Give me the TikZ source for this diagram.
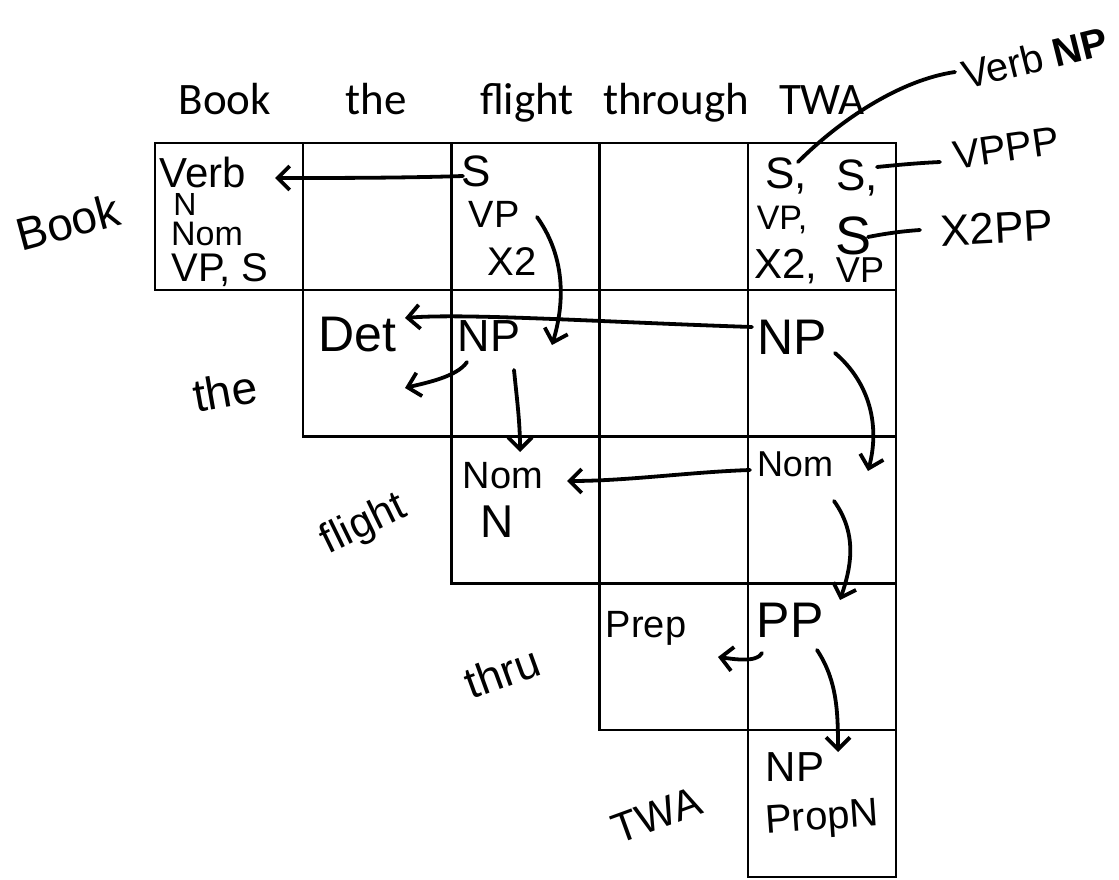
\documentclass[tikz,border=0pt]{standalone}
\usepackage{fontspec}
\setmainfont{Carlito}
\newfontfamily\hand{Liberation Sans}
\usetikzlibrary{arrows.meta,calc}
\begin{document}
\begin{tikzpicture}[x=1pt,y=-1pt,
  cell/.style={line width=2.4pt},
  head/.style={font=\fontsize{45}{50}\selectfont, anchor=base, inner sep=0pt},
  hw/.style={font=\hand\fontsize{#1}{#1}\selectfont, inner sep=0pt},
  ink/.style={line width=3.8pt, line cap=round, line join=round},
  arr/.style={ink, -{Straight Barb[length=12pt,width=24pt]}}]
\useasboundingbox (0,0) rectangle (1119,880);
% chart grid
\foreach \r in {0,...,4}{
  \foreach \c in {\r,...,4}{
    \draw[cell] ({155+148.2*\c},{143+146.8*\r}) rectangle ++(148.2,146.8);
  }}
% header words
\node[head] (hBook) at (225,115) {Book};
\node[head] (hThe) at (376,115) {the};
\node[head] (hFlight) at (527,115) {flight};
\node[head] (hThrough) at (676,115) {through};
\node[head] (hTWA) at (822,115) {TWA};
% row labels
\node[hw=46, rotate=15] (lBook) at (68,222) {Book};
\node[hw=46, rotate=10] (lThe) at (225,391) {the};
\node[hw=42, rotate=26] (lFlight) at (364,525) {flight};
\node[hw=44, rotate=20] (lThru) at (502,672) {thru};
\node[hw=42, rotate=20] (lTWA) at (657,815) {TWA};
% cell (0,0)
\node[hw=42] (Verb) at (203,172) {Verb};
\node[hw=32] (N00) at (185,204) {N};
\node[hw=34] (Nom00) at (207,234) {Nom};
\node[hw=40] (VPS00) at (220,270) {VP, S};
% cell (0,2)
\node[hw=44] (S02) at (476,171) {S};
\node[hw=38] (VP02) at (494,214) {VP};
\node[hw=40] (X202) at (512,262) {X2};
% cell (0,4)
\node[hw=44] (S04a) at (786,176) {S,};
\node[hw=44] (S04b) at (857,178) {S,};
\node[hw=34] (VP04a) at (782,220) {VP,};
\node[hw=54] (S04c) at (853,236) {S};
\node[hw=42] (X204) at (786,267) {X2,};
\node[hw=36] (VP04b) at (860,270) {VP};
% annotations
\node[hw=40, rotate=14] (VerbNP) at (1035,58) {Verb \textbf{NP}};
\node[hw=40, rotate=8] (VPPP) at (1006,148) {VPPP};
\node[hw=44, rotate=3] (X2PP) at (997,228) {X2PP};
% row 1
\node[hw=50] (Det) at (357,335) {Det};
\node[hw=45] (NP12) at (489,336) {NP};
\node[hw=50] (NP14) at (792,337) {NP};
% row 2
\node[hw=38] (Nom22) at (503,476) {Nom};
\node[hw=46] (N22) at (497,522) {N};
\node[hw=36] (Nom24) at (795,464) {Nom};
% row 3
\node[hw=38] (Prep) at (646,628) {Prep};
\node[hw=50] (PP34) at (790,620) {PP};
% row 4
\node[hw=42] (NP44) at (795,767) {NP};
\node[hw=40, rotate=4] (PropN) at (822,820) {PropN};
% back-pointer arrows
\draw[arr] ($(S02)+(-13,5)$) .. controls +(-60,2) and +(60,0) .. ($(Verb)+(72,6)$);
\draw[arr] ($(VP02)+(43,3)$) .. controls +(25,35) and +(15,-50) .. ($(NP12)+(63,9)$);
\draw[arr] ($(NP14)+(-40,-10)$) .. controls +(-150,-5) and +(60,-5) .. ($(Det)+(48,-17)$);
\draw[arr] ($(NP12)+(-22,26)$) .. controls +(-10,15) and +(20,-5) .. ($(NP12)+(-84,52)$);
\draw[arr] ($(NP12)+(25,34)$) .. controls +(3,30) and +(0,-30) .. ($(Nom22)+(17,-24)$);
\draw[arr] ($(NP14)+(43,16)$) .. controls +(35,30) and +(12,-45) .. ($(Nom24)+(73,7)$);
\draw[arr] ($(Nom24)+(-45,6)$) .. controls +(-60,2) and +(60,0) .. ($(Nom22)+(64,5)$);
\draw[arr] ($(Nom24)+(39,37)$) .. controls +(25,35) and +(10,-30) .. ($(PP34)+(50,-20)$);
\draw[arr] ($(PP34)+(-28,33)$) .. controls +(-5,10) and +(15,2) .. ($(PP34)+(-72,37)$);
\draw[arr] ($(PP34)+(27,30)$) .. controls +(20,30) and +(0,-40) .. ($(NP44)+(43,-15)$);
% annotation links
\draw[ink] ($(S04a)+(12,-14)$) .. controls +(42,-42) and +(-55,8) .. ($(VerbNP)+(-80,14)$);
\draw[ink] ($(S04b)+(20,-11)$) .. controls +(30,-3) and +(-20,1) .. ($(VPPP)+(-66,14)$);
\draw[ink] ($(S04c)+(15,1)$) .. controls +(20,-4) and +(-15,1) .. ($(X2PP)+(-77,2)$);
\end{tikzpicture}
\end{document}
